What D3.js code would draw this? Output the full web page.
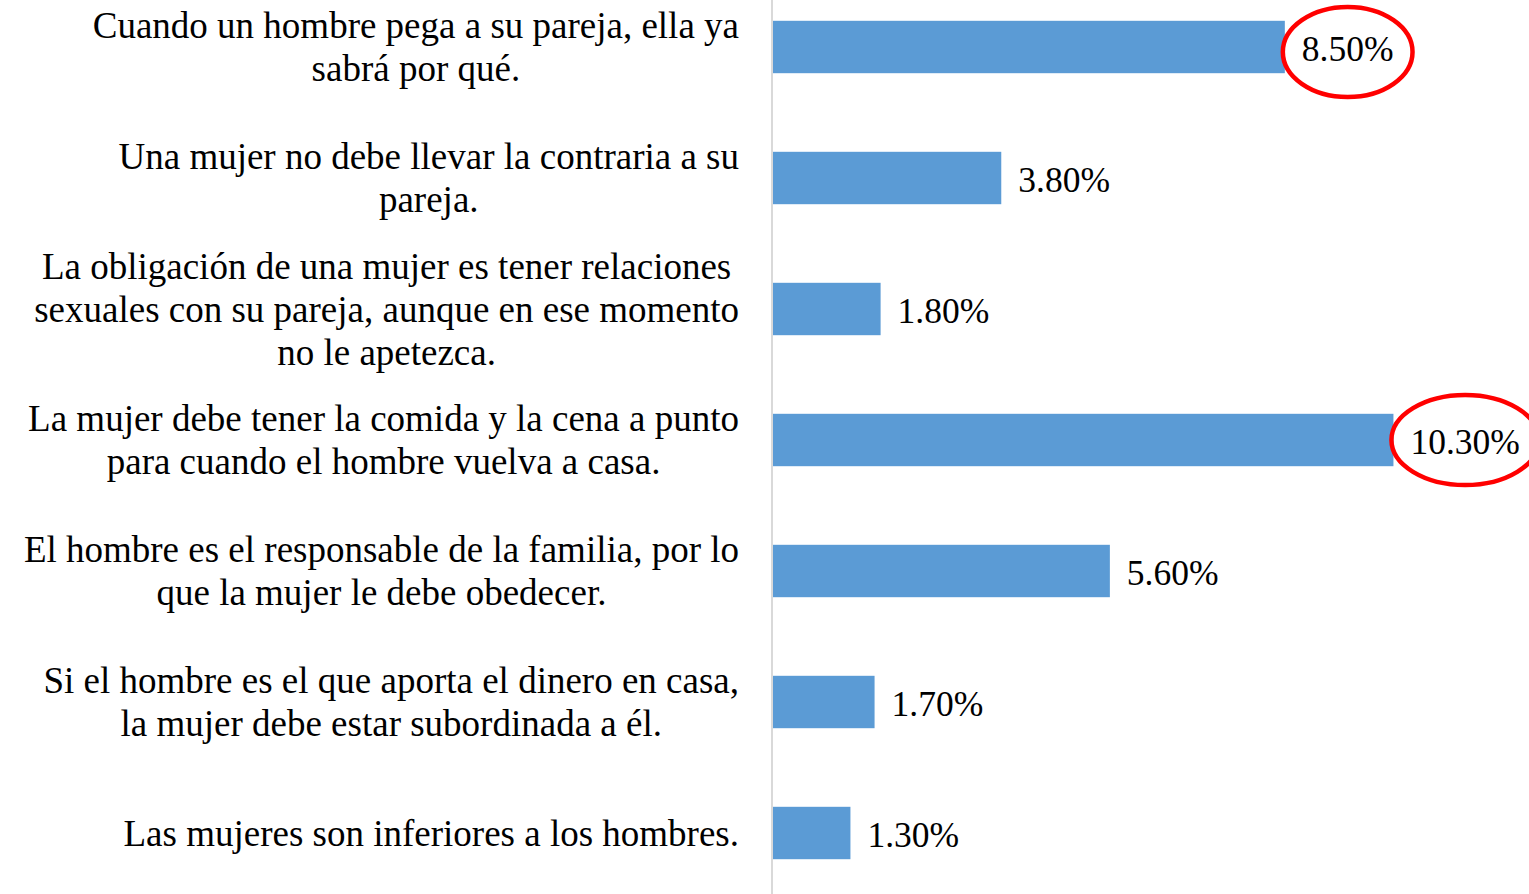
<!DOCTYPE html>
<html>
<head>
<meta charset="utf-8">
<script src="https://cdn.jsdelivr.net/npm/d3@7"></script>
<style>
  body { margin: 0; background: #fff; }
  svg { display: block; }
  text { font-family: "Liberation Serif", "Times New Roman", serif; fill: #000; }
</style>
</head>
<body>
<svg id="chart"></svg>
<script>
const width = 1529, height = 894;

// categories, written line by line as in the original
const categories = [
    ["Cuando un hombre pega a su pareja, ella ya", "sabrá por qué."],
    ["Una mujer no debe llevar la contraria a su", "pareja."],
    ["La obligación de una mujer es tener relaciones", "sexuales con su pareja, aunque en ese momento", "no le apetezca."],
    ["La mujer debe tener la comida y la cena a punto", "para cuando el hombre vuelva a casa."],
    ["El hombre es el responsable de la familia, por lo", "que la mujer le debe obedecer."],
    ["Si el hombre es el que aporta el dinero en casa,", "la mujer debe estar subordinada a él."],
    ["Las mujeres son inferiores a los hombres."]
];
const values = [0.085, 0.038, 0.018, 0.103, 0.056, 0.017, 0.013];
const highlighted = [0, 3];   // values circled in red

const axis_x = 772;
const label_right = 739;

const svg = d3.select("#chart")
    .attr("width", width)
    .attr("height", height);

const keys = categories.map(function(d, i) { return i; });

const yScale = d3.scaleBand()
    .domain(keys)
    .range([-18.5, 898.5])
    .paddingInner(0.6)
    .paddingOuter(0.3);

const xScale = d3.scaleLinear()
    .domain([0, 0.12])
    .range([axis_x, axis_x + 724]);

const fmt = d3.format(".2%");

// bars
svg.selectAll("rect.bar")
    .data(values)
    .enter()
    .append("rect")
    .attr("class", "bar")
    .attr("x", xScale(0))
    .attr("y", function(d, i) { return yScale(i); })
    .attr("width", function(d) { return xScale(d) - xScale(0); })
    .attr("height", yScale.bandwidth())
    .attr("fill", "#5B9BD5");

// vertical axis line
svg.append("line")
    .attr("x1", xScale(0)).attr("x2", xScale(0))
    .attr("y1", 0).attr("y2", height)
    .attr("stroke", "#D9D9D9")
    .attr("stroke-width", 2);

// category labels, centred lines, block aligned right
const lineH = 43;
const labels = svg.selectAll("g.label")
    .data(categories)
    .enter()
    .append("g")
    .attr("class", "label")
    .attr("transform", function(d, i) {
        return "translate(" + label_right + "," + (yScale(i) + yScale.bandwidth() / 2) + ")";
    });

labels.each(function(lines) {
    const g = d3.select(this);
    const t = g.selectAll("text")
        .data(lines)
        .enter()
        .append("text")
        .attr("font-size", 37)
        .attr("text-anchor", "middle")
        .attr("dominant-baseline", "central")
        .attr("y", function(d, j) { return (j - (lines.length - 1) / 2) * lineH; })
        .text(function(d) { return d; });
    let w = 0;
    t.each(function() { w = Math.max(w, this.getComputedTextLength()); });
    t.attr("x", -w / 2);
});

// value labels
const vals = svg.selectAll("g.value")
    .data(values)
    .enter()
    .append("g")
    .attr("class", "value")
    .attr("transform", function(d, i) {
        return "translate(" + (xScale(d) + 17) + "," + (yScale(i) + yScale.bandwidth() / 2 + 2) + ")";
    });

vals.append("text")
    .attr("font-size", 35.5)
    .attr("dominant-baseline", "central")
    .text(function(d) { return fmt(d); });

// red circles round the highlighted values (drawn by hand in the original)
const circle_dy = [3, 0, 0, -2, 0, 0, 0];
vals.filter(function(d, i) { return highlighted.indexOf(i) >= 0; })
    .each(function(d) {
        const i = values.indexOf(d);
        const g = d3.select(this);
        const w = g.select("text").node().getComputedTextLength();
        g.insert("ellipse", "text")
            .attr("cx", w / 2)
            .attr("cy", circle_dy[i])
            .attr("rx", w / 2 + 19)
            .attr("ry", 45)
            .attr("fill", "none")
            .attr("stroke", "#FF0000")
            .attr("stroke-width", 4.5);
    });
</script>
</body>
</html>
